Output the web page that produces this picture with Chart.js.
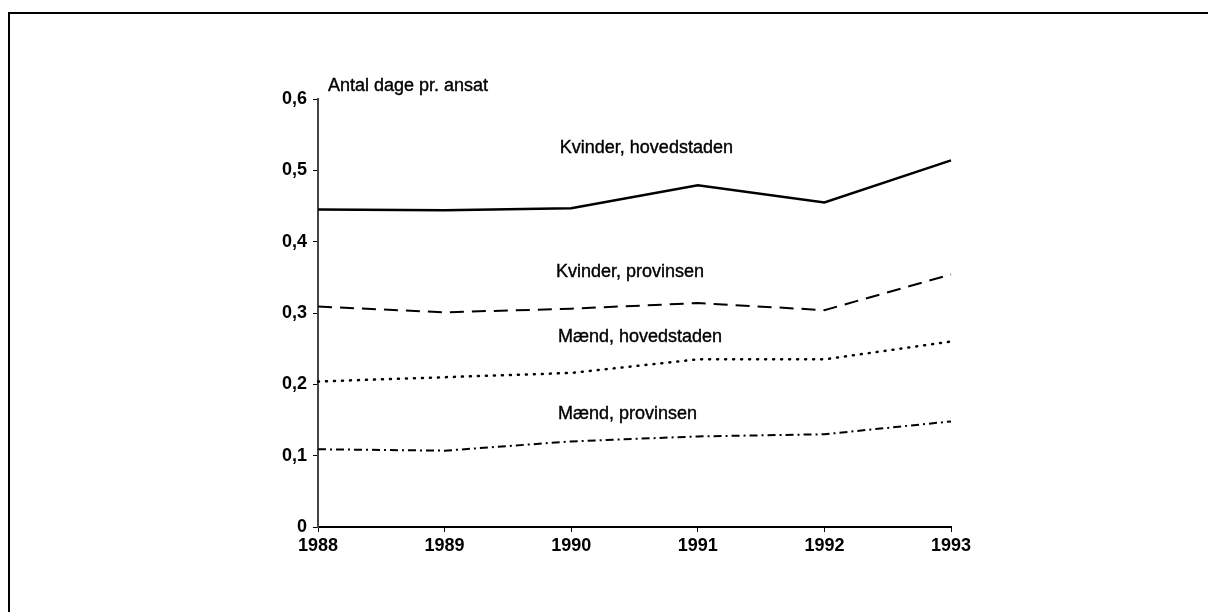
<!DOCTYPE html>
<html>
<head>
<meta charset="utf-8">
<script src="https://cdn.jsdelivr.net/npm/chart.js@4/dist/chart.umd.min.js"></script>
<style>
    body { margin: 0; background: #fff; }
    #frame {
        position: absolute; left: 8px; top: 12px; right: 0; bottom: 0;
        border-top: 2px solid #000; border-left: 2px solid #000;
    }
    #wrap { position: absolute; left: 0; top: 0; width: 1208px; height: 612px; }
</style>
</head>
<body>
<div id="frame"></div>
<div id="wrap"><canvas id="fravaerChart" width="1208" height="612"></canvas></div>
<script>
// data
const years = ['1988', '1989', '1990', '1991', '1992', '1993'];
const kvinderHovedstaden = [0.445, 0.444, 0.447, 0.479, 0.455, 0.514];
const kvinderProvinsen = [0.309, 0.301, 0.306, 0.314, 0.304, 0.354];
const maendHovedstaden = [0.204, 0.210, 0.216, 0.235, 0.235, 0.260];
const maendProvinsen = [0.109, 0.107, 0.120, 0.127, 0.130, 0.148];
const yTicks = [0, 0.1, 0.2, 0.3, 0.4, 0.5, 0.6];
const seriesNames = ['Kvinder, hovedstaden', 'Kvinder, provinsen', 'Mænd, hovedstaden', 'Mænd, provinsen'];
const yTitle = 'Antal dage pr. ansat';

// label anchors in data units (x = year index, y = value)
const labelAnchors = [
    { x: 1.91, y: 0.531 },
    { x: 1.88, y: 0.357 },
    { x: 1.895, y: 0.266 },
    { x: 1.895, y: 0.158 }
];

const fontFamily = "'Liberation Sans', Arial, sans-serif";

// draws the in-plot series labels and the y-axis caption
const labelPlugin = {
    id: 'seriesLabels',
    afterDraw(chart) {
        const ctx = chart.ctx;
        const xs = chart.scales.x;
        const ys = chart.scales.y;
        ctx.save();
        ctx.fillStyle = '#000';
        ctx.strokeStyle = '#000';
        ctx.lineWidth = 0.4;
        ctx.font = '18px ' + fontFamily;
        ctx.textBaseline = 'middle';
        ctx.textAlign = 'left';
        seriesNames.forEach((name, i) => {
            const a = labelAnchors[i];
            const px = xs.getPixelForValue(a.x);
            const py = ys.getPixelForValue(a.y);
            ctx.fillText(name, px, py);
            ctx.strokeText(name, px, py);
        });
        const tx = chart.chartArea.left + 10;
        const ty = chart.chartArea.top - 13;
        ctx.fillText(yTitle, tx, ty);
        ctx.strokeText(yTitle, tx, ty);
        ctx.restore();
    }
};

const ctx = document.getElementById('fravaerChart').getContext('2d');
const fravaerChart = new Chart(ctx, {
    type: 'line',
    data: {
        labels: years,
        datasets: [{
            label: seriesNames[0],
            data: kvinderHovedstaden,
            borderColor: '#000',
            borderWidth: 2.5,
            pointRadius: 0,
            tension: 0
        }, {
            label: seriesNames[1],
            data: kvinderProvinsen,
            borderColor: '#000',
            borderWidth: 2,
            borderDash: [14, 8],
            pointRadius: 0,
            tension: 0
        }, {
            label: seriesNames[2],
            data: maendHovedstaden,
            borderColor: '#000',
            borderWidth: 2.5,
            borderDash: [1, 7],
            borderCapStyle: 'round',
            pointRadius: 0,
            tension: 0
        }, {
            label: seriesNames[3],
            data: maendProvinsen,
            borderColor: '#000',
            borderWidth: 2,
            borderDash: [8, 4, 2, 4],
            pointRadius: 0,
            tension: 0
        }]
    },
    options: {
        responsive: false,
        animation: false,
        layout: {
            padding: { left: 258, right: 257, top: 99, bottom: 55 }
        },
        plugins: {
            legend: { display: false },
            tooltip: { enabled: false }
        },
        scales: {
            x: {
                offset: false,
                afterFit: scale => { scale.height = 30; },
                border: { display: true, color: '#000', width: 2 },
                grid: {
                    display: true,
                    drawOnChartArea: false,
                    drawTicks: true,
                    tickLength: 5,
                    color: '#000'
                },
                ticks: {
                    color: '#000',
                    padding: 3,
                    maxRotation: 0,
                    font: { family: fontFamily, size: 18, weight: 'bold' }
                }
            },
            y: {
                min: 0,
                max: 0.6,
                afterFit: scale => { scale.width = 60; },
                afterBuildTicks: scale => {
                    scale.ticks = yTicks.map(v => ({ value: v }));
                },
                border: { display: true, color: '#444', width: 2 },
                grid: {
                    display: true,
                    drawOnChartArea: false,
                    drawTicks: true,
                    tickLength: 5,
                    color: '#000'
                },
                ticks: {
                    color: '#000',
                    padding: 6,
                    font: { family: fontFamily, size: 18, weight: 'bold' },
                    callback: v => v === 0 ? '0' : v.toFixed(1).replace('.', ',')
                }
            }
        }
    },
    plugins: [labelPlugin]
});
</script>
</body>
</html>
